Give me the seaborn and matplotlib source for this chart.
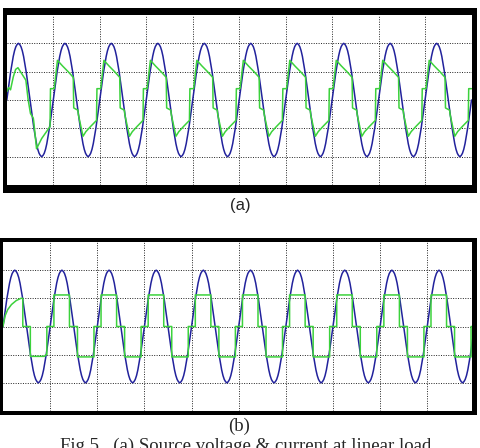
import matplotlib
matplotlib.use("Agg")
import matplotlib.pyplot as plt
from matplotlib.patches import Rectangle
import pandas as pd
import seaborn as sns

voltage_cycle = [0.00, 0.17, 0.34, 0.50, 0.64, 0.77, 0.87, 0.94, 0.98, 1.00, 0.98, 0.94,
                 0.87, 0.77, 0.64, 0.50, 0.34, 0.17, 0.00, -0.17, -0.34, -0.50, -0.64, -0.77,
                 -0.87, -0.94, -0.98, -1.00, -0.98, -0.94, -0.87, -0.77, -0.64, -0.50, -0.34, -0.17]
n_cycles = 10

# (a) source current: first cycle and steady-state cycle (phase in cycles, value in p.u.)
a_first_phase = [0.00, 0.04, 0.08, 0.14, 0.19, 0.24, 0.41, 0.46, 0.51, 0.57, 0.58, 0.64, 0.75, 0.93, 0.94, 1.00]
a_first_current = [0.15, 0.22, 0.18, 0.41, 0.54, 0.57, 0.35, 0.00, -0.24, -0.32, -0.38, -0.86, -0.68, -0.47, 0.20, 0.20]
a_phase = [0.00, 0.02, 0.09, 0.20, 0.32, 0.43, 0.44, 0.53, 0.54, 0.64, 0.70, 0.80, 0.93, 0.94, 1.00]
a_current = [0.20, 0.20, 0.70, 0.60, 0.50, 0.40, -0.14, -0.18, -0.26, -0.64, -0.56, -0.47, -0.36, 0.20, 0.20]

# (b) source current: first cycle and steady-state cycle
b_first_phase = [0.00, 0.01, 0.05, 0.10, 0.18, 0.28, 0.38, 0.42, 0.42, 0.58, 0.58, 0.88, 0.91, 0.93, 0.93, 1.00]
b_first_current = [0.00, 0.05, 0.20, 0.30, 0.39, 0.46, 0.50, 0.50, 0.00, 0.00, -0.53, -0.53, -0.50, -0.50, 0.00, 0.00]
b_phase = [0.00, 0.08, 0.08, 0.41, 0.41, 0.58, 0.58, 0.93, 0.93, 1.00]
b_current = [0.00, 0.00, 0.56, 0.56, 0.00, 0.00, -0.54, -0.54, 0.00, 0.00]

VOLT_COLOR = "#22229c"
CURR_COLOR = "#3cd23c"


def voltage_frame():
    step = 1.0 / len(voltage_cycle)
    xs = [c + k * step for c in range(n_cycles) for k in range(len(voltage_cycle))] + [n_cycles]
    ys = voltage_cycle * n_cycles + [voltage_cycle[0]]
    return pd.DataFrame({"cycle": xs, "value": ys})


def current_frame(first_phase, first_vals, phase, vals):
    xs = list(first_phase)
    ys = list(first_vals)
    for c in range(1, n_cycles):
        xs += [c + p for p in phase]
        ys += list(vals)
    return pd.DataFrame({"cycle": xs, "value": ys})


sns.set_style("white")
W, H = 480, 448
fig = plt.figure(figsize=(W / 100, H / 100), dpi=100)


def px_rect(x0, y0, x1, y1):
    return [x0 / W, 1 - y1 / H, (x1 - x0) / W, (y1 - y0) / H]


def panel(inner, outer, xmax, cur_df):
    # thick black frame behind the plotting area
    ox0, oy0, ox1, oy1 = outer
    fig.add_artist(Rectangle((ox0 / W, 1 - oy1 / H), (ox1 - ox0) / W, (oy1 - oy0) / H,
                             transform=fig.transFigure, facecolor="black",
                             edgecolor="none", zorder=-1))
    ax = fig.add_axes(px_rect(*inner))
    ax.set_facecolor("white")
    sns.lineplot(data=voltage_frame(), x="cycle", y="value", ax=ax, color=VOLT_COLOR,
                 linewidth=1.1, estimator=None, sort=False)
    sns.lineplot(data=cur_df, x="cycle", y="value", ax=ax, color=CURR_COLOR,
                 linewidth=1.1, estimator=None, sort=False)
    ax.set_xlim(0, xmax)
    ax.set_ylim(-1.5, 1.5)
    ax.set_xticks(range(1, 10))
    ax.set_yticks([-1, -0.5, 0, 0.5, 1])
    ax.grid(True, color="#222222", linestyle=(0, (1, 1.5)), linewidth=0.7)
    ax.set_axisbelow(True)
    ax.tick_params(length=0, labelbottom=False, labelleft=False)
    ax.set_xlabel("")
    ax.set_ylabel("")
    for s in ax.spines.values():
        s.set_visible(False)
    return ax


df_a = current_frame(a_first_phase, a_first_current, a_phase, a_current)
df_b = current_frame(b_first_phase, b_first_current, b_phase, b_current)

panel((6.8, 15, 471.5, 185), (3.3, 8, 476.8, 193), 10.0, df_a)
panel((3, 242, 472, 411), (-1, 238, 477.3, 415), 9.95, df_b)

fig.text(240 / W, 1 - 205 / H, "(a)", ha="center", va="center",
         family="Liberation Sans", fontsize=12)
fig.text(239 / W, 1 - 426 / H, "(b)", ha="center", va="center",
         family="Liberation Serif", fontsize=13.5)
fig.text(246 / W, 1 - 451 / H, "Fig 5.  (a) Source voltage & current at linear load",
         ha="center", va="baseline", family="Liberation Serif", fontsize=13.5)

fig.savefig("out.png", dpi=100)
